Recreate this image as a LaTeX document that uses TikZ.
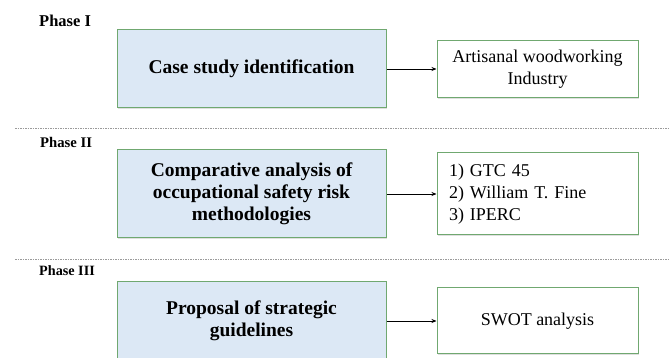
\documentclass[tikz,border=0pt]{standalone}
\usepackage{fontspec}
\setmainfont{Liberation Serif}
\usetikzlibrary{arrows.meta,shadows}
\definecolor{boxgreen}{HTML}{70A870}
\definecolor{boxblue}{HTML}{DCE8F5}
\definecolor{sepgray}{HTML}{9A9A9A}
\begin{document}
\begin{tikzpicture}[x=1pt,y=-1pt,
  boxshadow/.style={drop shadow={shadow xshift=1.2pt, shadow yshift=-1.2pt, opacity=0.25, fill=gray}},
  mainbox/.style={draw=boxgreen, line width=1pt, fill=boxblue, minimum width=269pt,
    inner sep=0pt, align=center, font=\fontsize{19.5}{22}\selectfont\bfseries, boxshadow},
  sidebox/.style={draw=boxgreen, line width=1pt, fill=white, minimum width=201pt,
    inner sep=0pt, font=\fontsize{18}{22}\selectfont, boxshadow},
  phaselabel/.style={anchor=west, inner sep=0pt, font=\bfseries},
  phasesep/.style={draw=sepgray, dash pattern=on 1.5pt off 1pt, line width=0.6pt},
  flowarrow/.style={draw=black, line width=0.8pt, -{Stealth[length=5pt,width=4pt]}}]
\useasboundingbox (0,0) rectangle (670,358);

% phase labels
\node[phaselabel, font=\fontsize{16.5}{18}\selectfont\bfseries] (p1) at (39,21) {Phase I};
\node[phaselabel, font=\fontsize{14.7}{18}\selectfont\bfseries] (p2) at (40,142) {Phase II};
\node[phaselabel, font=\fontsize{14.2}{18}\selectfont\bfseries] (p3) at (39,271) {Phase III};

% separators
\coordinate (d1a) at (15,128);
\coordinate (d1b) at (668,128);
\coordinate (d2a) at (15,259);
\coordinate (d2b) at (668,259);
\draw[phasesep] (d1a) -- (d1b);
\draw[phasesep] (d2a) -- (d2b);

% main boxes
\node[mainbox, minimum height=78pt] (b1) at (251.5,69) {Case study identification};
\node[mainbox, minimum height=88pt] (b2) at (251.5,194) {Comparative analysis of\\occupational safety risk\\methodologies};
\node[mainbox, minimum height=78pt] (b3) at (251.5,321) {Proposal of strategic\\guidelines};

% side boxes
\node[sidebox, minimum height=57pt, align=center] (r1) at (537.5,69) {Artisanal woodworking\\Industry};
\node[sidebox, minimum height=82pt, text width=177pt, inner xsep=12pt, align=left] (r2) at (537.5,194) {1) GTC 45\\2) William T. Fine\\3) IPERC};
\node[sidebox, minimum height=66pt, align=center] (r3) at (537.5,321) {SWOT analysis};

% arrows
\draw[flowarrow] (b1.east) -- (r1.west);
\draw[flowarrow] (b2.east) -- (r2.west);
\draw[flowarrow] (b3.east) -- (r3.west);
\end{tikzpicture}
\end{document}
